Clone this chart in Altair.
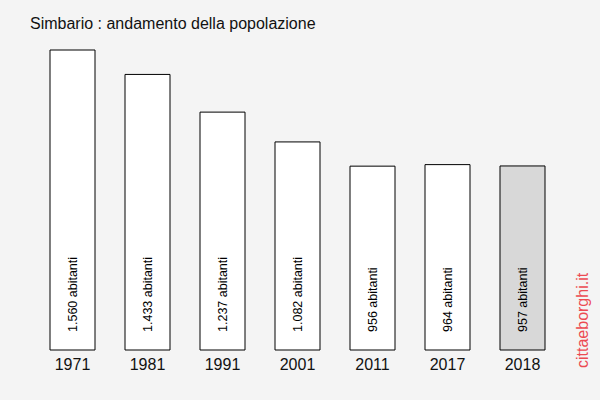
import altair as alt
import pandas as pd

years = ["1971", "1981", "1991", "2001", "2011", "2017", "2018"]
population = [1560, 1433, 1237, 1082, 956, 964, 957]
highlight_year = "2018"

labels = [f"{p:,}".replace(",", ".") + " abitanti" for p in population]
df = pd.DataFrame({"year": years, "pop": population, "label": labels})
df["hl"] = df["year"] == highlight_year

FONT = "Liberation Sans"

x = alt.X("year:N", sort=years, title=None,
          scale=alt.Scale(paddingInner=0.4, paddingOuter=0.2),
          axis=alt.Axis(labelAngle=0, domain=False, ticks=False, labelPadding=6,
                        labelFontSize=16, labelColor="#111", labelFont=FONT, grid=False))
y = alt.Y("pop:Q", title=None, scale=alt.Scale(domain=[0, 1560], nice=False),
          axis=None)

bars = alt.Chart(df).mark_bar(stroke="black", strokeWidth=1).encode(
    x=x, y=y,
    fill=alt.condition("datum.hl", alt.value("#d8d8d8"), alt.value("white")),
)

text = alt.Chart(df).mark_text(angle=270, align="left", baseline="middle",
                               dx=18, fontSize=12.5, font=FONT, color="black").encode(
    x=alt.X("year:N", sort=years),
    y=alt.datum(0),
    text="label:N",
)

mark = alt.Chart(df.head(1)).mark_text(angle=270, align="left", baseline="middle",
                                       fontSize=16, font=FONT, color="#ec4a52").encode(
    x=alt.value(548), y=alt.value(318), text=alt.datum("cittaeborghi.it"),
)

chart = alt.layer(bars, text, mark).properties(
    width=525, height=300,
    padding={"left": 35, "top": 50, "right": 40, "bottom": 50},
    autosize=alt.AutoSizeParams(type="none"),
    background="#f4f4f4",
    title=alt.TitleParams("Simbario : andamento della popolazione", anchor="start",
                          frame="group", dx=-5, offset=18, fontSize=16,
                          fontWeight="normal", font=FONT, color="#111"),
).configure_view(stroke=None)

chart.save("out.html", embed_options={"renderer": "svg", "actions": False})
